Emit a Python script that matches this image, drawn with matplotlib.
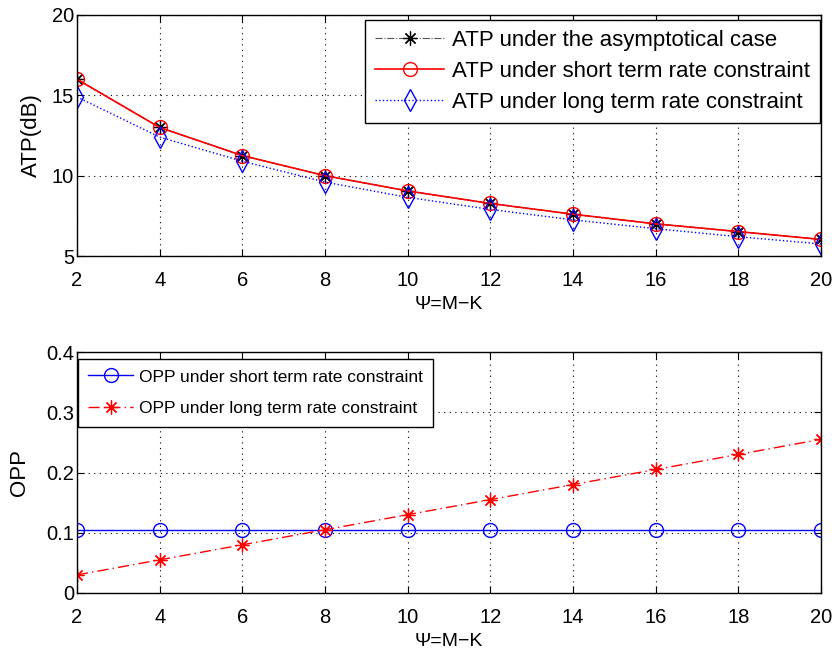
import matplotlib
matplotlib.use('Agg')
import matplotlib.pyplot as plt

plt.rcParams['font.family'] = ['Liberation Sans', 'DejaVu Sans']
plt.rcParams['axes.unicode_minus'] = False

# data
psi = [2, 4, 6, 8, 10, 12, 14, 16, 18, 20]
atp_asym = [16.0, 13.0, 11.25, 10.0, 9.05, 8.27, 7.6, 7.0, 6.52, 6.03]
atp_short = [16.0, 13.0, 11.25, 10.0, 9.05, 8.27, 7.6, 7.0, 6.52, 6.03]
atp_long = [14.9, 12.4, 10.9, 9.6, 8.65, 7.9, 7.25, 6.7, 6.2, 5.75]
opp_short = [0.105] * 10
opp_long = [0.03, 0.055, 0.08, 0.105, 0.13, 0.155, 0.18, 0.205, 0.23, 0.255]

xticks = [2, 4, 6, 8, 10, 12, 14, 16, 18, 20]

ASTERISK = (8, 2, 0)

fig = plt.figure(figsize=(8.35, 6.56), dpi=100)
ax1 = fig.add_axes([77 / 835, 1 - 256 / 656, 744 / 835, 241 / 656])
ax2 = fig.add_axes([77 / 835, 1 - 593 / 656, 744 / 835, 241 / 656])


def style_axes(ax):
    ax.set_xlim(2, 20)
    ax.set_xticks(xticks)
    ax.tick_params(direction='in', top=True, right=True, labelsize=14.5, length=5,
                   width=0.8, pad=2)
    ax.tick_params(axis='x', pad=11)
    ax.grid(True, color='black', linestyle=(0, (1, 4)), linewidth=0.8)
    for s in ax.spines.values():
        s.set_linewidth(1.0)
    ax.set_xlabel('Ψ=M−K', fontsize=14, labelpad=4)


# 上图：ATP
l_asym, = ax1.plot(psi, atp_asym, color='black', linestyle='-.', linewidth=0.8,
                   marker=ASTERISK, markersize=10, markeredgewidth=0.9)
l_short, = ax1.plot(psi, atp_short, color='red', linestyle='-', linewidth=1.2,
                    marker='o', markersize=10, markerfacecolor='none', markeredgewidth=1.0)
l_long, = ax1.plot(psi, atp_long, color='blue', linestyle=':', linewidth=1.0,
                   marker='d', markersize=11, markerfacecolor='none', markeredgewidth=1.0)
ax1.set_ylim(5, 20)
ax1.set_yticks([5, 10, 15, 20])
style_axes(ax1)
ax1.set_ylabel('ATP(dB)', fontsize=16)
ax1.yaxis.set_label_coords(-0.047, 0.5)
leg1 = ax1.legend([l_asym, l_short, l_long],
                  ['ATP under the asymptotical case',
                   'ATP under short term rate constraint',
                   'ATP under long term rate constraint'],
                  loc='upper right', bbox_to_anchor=(0.9987, 0.979),
                  fontsize=16, fancybox=False, framealpha=1,
                  edgecolor='black', borderaxespad=0, handlelength=3.1,
                  labelspacing=0.45, borderpad=0.45, handletextpad=0.35)
leg1.get_frame().set_linewidth(1.0)
leg1.legend_handles[0].set_color('#555555')
leg1.legend_handles[0].set_markeredgecolor('black')

# 下图：OPP
ax2.plot(psi, opp_short, color='blue', linestyle='-', linewidth=1.0,
         marker='o', markersize=10, markerfacecolor='none', markeredgewidth=1.0,
         label='OPP under short term rate constraint')
ax2.plot(psi, opp_long, color='red', linestyle=(0, (8, 3, 1, 3)), linewidth=1.0,
         marker=ASTERISK, markersize=10, markeredgewidth=0.9,
         label='OPP under long term rate constraint')
ax2.set_ylim(0, 0.4)
ax2.set_yticks([0, 0.1, 0.2, 0.3, 0.4])
ax2.set_yticklabels(['0', '0.1', '0.2', '0.3', '0.4'])
style_axes(ax2)
ax2.set_ylabel('OPP', fontsize=16)
ax2.yaxis.set_label_coords(-0.063, 0.5)
leg2 = ax2.legend(loc='upper left', bbox_to_anchor=(0.001, 0.971),
                  fontsize=12.5, fancybox=False, framealpha=1,
                  edgecolor='black', borderaxespad=0, handlelength=2.6,
                  labelspacing=0.95, borderpad=0.6, handletextpad=0.3)
leg2.get_frame().set_linewidth(1.0)

fig.savefig('out.png', dpi=100, facecolor='white')
